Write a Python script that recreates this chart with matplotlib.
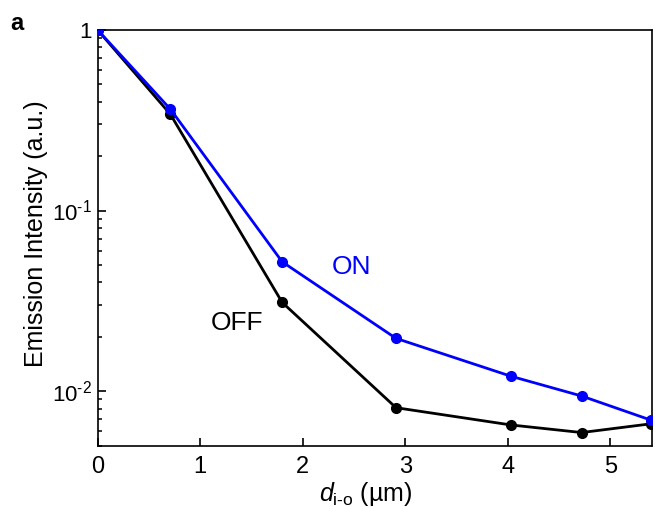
import matplotlib
matplotlib.use("Agg")
from matplotlib import pyplot as plt
from matplotlib.ticker import FixedLocator, FixedFormatter, LogLocator, NullFormatter

# distances (um) and normalised intensities
dist = [0, 0.71, 1.80, 2.91, 4.03, 4.72, 5.40]
on_vals = [1.0, 0.364, 0.052, 0.0196, 0.0121, 0.0094, 0.0069]
off_vals = [1.0, 0.341, 0.031, 0.0081, 0.0065, 0.0059, 0.0066]

ytick_vals = [1e-2, 1e-1, 1]
ytick_labels = [r"$\mathregular{10^{\text{-}2}}$", r"$\mathregular{10^{\text{-}1}}$", "1"]
xtick_vals = [0, 1, 2, 3, 4, 5]

plt.rcParams["font.family"] = ["Liberation Sans", "DejaVu Sans"]
plt.rcParams["mathtext.fontset"] = "custom"
plt.rcParams["mathtext.rm"] = "Liberation Sans"
plt.rcParams["mathtext.it"] = "Liberation Sans:italic"

BLUE = "#0000ff"
FS = 19

fig = plt.figure(figsize=(6.55, 5.07), dpi=100)
ax = fig.add_axes([0.149, 0.120, 0.847, 0.821])

ax.plot(dist, off_vals, color="black", lw=2.0, marker="o", ms=7, zorder=3)
ax.plot(dist, on_vals, color=BLUE, lw=2.0, marker="o", ms=7, zorder=4)

ax.set_yscale("log")
ax.set_xlim(0, 5.41)
ax.set_ylim(0.00496, 1)

ax.yaxis.set_major_locator(FixedLocator(ytick_vals))
ax.yaxis.set_major_formatter(FixedFormatter(ytick_labels))
ax.yaxis.set_minor_locator(LogLocator(base=10, subs=range(2, 10)))
ax.yaxis.set_minor_formatter(NullFormatter())
ax.set_xticks(xtick_vals)

ax.tick_params(axis="both", which="major", direction="in", length=6,
               width=1.2, labelsize=17, pad=7, top=False, right=False)
ax.tick_params(axis="y", which="major", labelsize=16, pad=4)
ax.tick_params(axis="y", which="minor", direction="in", length=3,
               width=1.1, right=False)
for s in ax.spines.values():
    s.set_linewidth(1.2)

ax.text(1.36, 0.0238, "OFF", fontsize=FS, ha="center", va="center", color="black")
ax.text(2.48, 0.0486, "ON", fontsize=FS, ha="center", va="center", color=BLUE)

ax.set_ylabel("Emission Intensity (a.u.)", fontsize=18)
ax.yaxis.set_label_coords(-0.09, 0.51)
ax.set_xlabel(r"$\mathit{d}_{\mathrm{i\text{-}o}}$ (µm)", fontsize=18, labelpad=0)
ax.xaxis.set_label_coords(0.484, -0.082)

fig.text(0.015, 0.953, "a", fontsize=17, fontweight="bold", ha="left", va="center")

fig.savefig("out.png", dpi=100)
